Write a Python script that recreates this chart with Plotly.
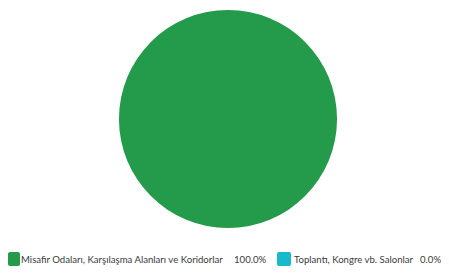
import plotly.graph_objects as go

labels = ["Misafir Odaları, Karşılaşma Alanları ve Koridorlar", "Toplantı, Kongre vb. Salonlar"]
values = [100.0, 0.0]
colors = ["#239B4B", "#18B9CB"]

# page body has an 8px margin, so the figure is sized to the visible area
W, H = 441, 265
total = sum(values)
percents = [f"{v / total * 100:.1f}%" for v in values]

fig = go.Figure(go.Pie(
    labels=labels,
    values=values,
    marker=dict(colors=colors, line=dict(width=0)),
    textinfo="none",
    sort=False,
    direction="clockwise",
    hovertemplate="%{label}: %{percent}<extra></extra>",
    domain=dict(x=[0.0, 0.9977], y=[0.1698, 0.9925]),
    showlegend=False,
))

def px_x(x):
    return x / W

def px_y(y):
    return 1 - y / H

def rounded_rect(x0, y0, x1, y1, r):
    return (f"M {px_x(x0 + r)},{px_y(y0)} L {px_x(x1 - r)},{px_y(y0)} "
            f"Q {px_x(x1)},{px_y(y0)} {px_x(x1)},{px_y(y0 + r)} "
            f"L {px_x(x1)},{px_y(y1 - r)} Q {px_x(x1)},{px_y(y1)} {px_x(x1 - r)},{px_y(y1)} "
            f"L {px_x(x0 + r)},{px_y(y1)} Q {px_x(x0)},{px_y(y1)} {px_x(x0)},{px_y(y1 - r)} "
            f"L {px_x(x0)},{px_y(y0 + r)} Q {px_x(x0)},{px_y(y0)} {px_x(x0 + r)},{px_y(y0)} Z")

# legend row (custom, single row)
swatch_x = [0, 269]
swatch_w = [12, 14]
label_x = [11, 284]
pct_x = [224, 410]
row_y = 251
font = dict(family="Lato", size=9.6, color="#3a3a3a")

shapes = []
annotations = []
for i in range(len(labels)):
    shapes.append(dict(type="path", xref="paper", yref="paper",
                       path=rounded_rect(swatch_x[i], row_y - 7, swatch_x[i] + swatch_w[i], row_y + 7, 2),
                       fillcolor=colors[i], line=dict(width=0)))
    annotations.append(dict(text=labels[i], x=px_x(label_x[i]), y=px_y(row_y),
                            xref="paper", yref="paper", xanchor="left", yanchor="middle",
                            showarrow=False, font=font))
    annotations.append(dict(text=percents[i], x=px_x(pct_x[i]), y=px_y(row_y),
                            xref="paper", yref="paper", xanchor="left", yanchor="middle",
                            showarrow=False, font=font))

fig.update_layout(
    width=W, height=H,
    margin=dict(l=0, r=0, t=0, b=0),
    paper_bgcolor="white",
    shapes=shapes,
    annotations=annotations,
)
fig.write_html("out.html")
